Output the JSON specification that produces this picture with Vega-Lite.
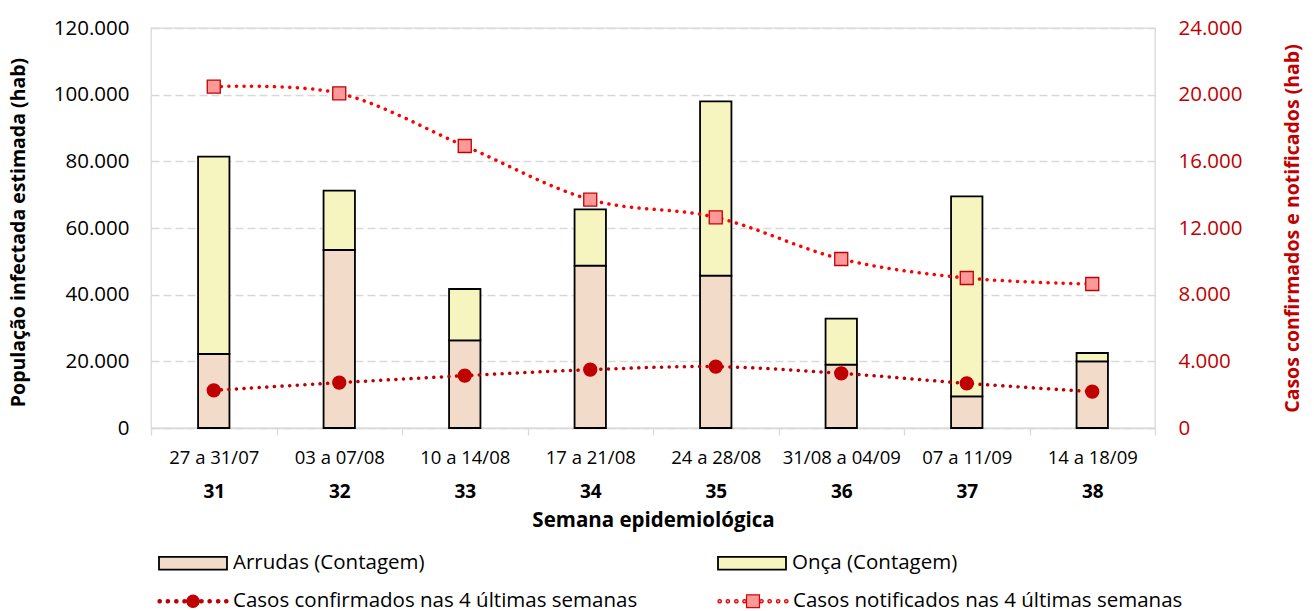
{
  "$schema": "https://vega.github.io/schema/vega-lite/v6.json",
  "autosize": {"type": "none"},
  "padding": {"left": 151, "top": 28, "right": 159, "bottom": 183},
  "width": 1004,
  "height": 400,
  "background": "white",
  "config": {
    "font": "Open Sans",
    "locale": {"number": {"decimal": ",", "thousands": ".", "grouping": [3], "currency": ["R$", ""]}},
    "view": {"stroke": "#D9D9D9", "strokeWidth": 1.3},
    "legend": {"padding": 0, "labelFont": "Open Sans", "labelFontSize": 20.5, "labelColor": "#000000", "labelOffset": 5, "orient": "none", "direction": "horizontal", "columns": 2, "labelLimit": 600}
  },
  "datasets": {
    "barras": [
      {"periodo": "27 a 31/07", "semana": 31, "area": "Arrudas (Contagem)", "valor": 22200},
      {"periodo": "27 a 31/07", "semana": 31, "area": "Onça (Contagem)", "valor": 59200},
      {"periodo": "03 a 07/08", "semana": 32, "area": "Arrudas (Contagem)", "valor": 53400},
      {"periodo": "03 a 07/08", "semana": 32, "area": "Onça (Contagem)", "valor": 17800},
      {"periodo": "10 a 14/08", "semana": 33, "area": "Arrudas (Contagem)", "valor": 26300},
      {"periodo": "10 a 14/08", "semana": 33, "area": "Onça (Contagem)", "valor": 15400},
      {"periodo": "17 a 21/08", "semana": 34, "area": "Arrudas (Contagem)", "valor": 48700},
      {"periodo": "17 a 21/08", "semana": 34, "area": "Onça (Contagem)", "valor": 16900},
      {"periodo": "24 a 28/08", "semana": 35, "area": "Arrudas (Contagem)", "valor": 45700},
      {"periodo": "24 a 28/08", "semana": 35, "area": "Onça (Contagem)", "valor": 52300},
      {"periodo": "31/08 a 04/09", "semana": 36, "area": "Arrudas (Contagem)", "valor": 19000},
      {"periodo": "31/08 a 04/09", "semana": 36, "area": "Onça (Contagem)", "valor": 13800},
      {"periodo": "07 a 11/09", "semana": 37, "area": "Arrudas (Contagem)", "valor": 9500},
      {"periodo": "07 a 11/09", "semana": 37, "area": "Onça (Contagem)", "valor": 60000},
      {"periodo": "14 a 18/09", "semana": 38, "area": "Arrudas (Contagem)", "valor": 20000},
      {"periodo": "14 a 18/09", "semana": 38, "area": "Onça (Contagem)", "valor": 2500}
    ],
    "casos": [
      {"semana": 31, "serie": "Casos confirmados nas 4 últimas semanas", "casos": 2260},
      {"semana": 32, "serie": "Casos confirmados nas 4 últimas semanas", "casos": 2720},
      {"semana": 33, "serie": "Casos confirmados nas 4 últimas semanas", "casos": 3140},
      {"semana": 34, "serie": "Casos confirmados nas 4 últimas semanas", "casos": 3500},
      {"semana": 35, "serie": "Casos confirmados nas 4 últimas semanas", "casos": 3680},
      {"semana": 36, "serie": "Casos confirmados nas 4 últimas semanas", "casos": 3280},
      {"semana": 37, "serie": "Casos confirmados nas 4 últimas semanas", "casos": 2680},
      {"semana": 38, "serie": "Casos confirmados nas 4 últimas semanas", "casos": 2180},
      {"semana": 31, "serie": "Casos notificados nas 4 últimas semanas", "casos": 20480},
      {"semana": 32, "serie": "Casos notificados nas 4 últimas semanas", "casos": 20080},
      {"semana": 33, "serie": "Casos notificados nas 4 últimas semanas", "casos": 16920},
      {"semana": 34, "serie": "Casos notificados nas 4 últimas semanas", "casos": 13700},
      {"semana": 35, "serie": "Casos notificados nas 4 últimas semanas", "casos": 12640},
      {"semana": 36, "serie": "Casos notificados nas 4 últimas semanas", "casos": 10140},
      {"semana": 37, "serie": "Casos notificados nas 4 últimas semanas", "casos": 9000},
      {"semana": 38, "serie": "Casos notificados nas 4 últimas semanas", "casos": 8640}
    ]
  },
  "layer": [
    {
      "data": {"name": "barras"},
      "mark": {"type": "bar", "width": {"band": 0.25}, "stroke": "#000000", "strokeWidth": 1.8},
      "encoding": {
        "x": {
          "field": "periodo", "type": "nominal", "sort": null,
          "scale": {"paddingInner": 0, "paddingOuter": 0},
          "axis": {
            "orient": "bottom", "title": null, "labelAngle": 0, "labelFontSize": 18.5, "labelColor": "#000000",
            "labelBaseline": "middle", "labelPadding": 22, "tickBand": "extent", "tickSize": 7,
            "tickColor": "#D9D9D9", "tickWidth": 1.3, "domainColor": "#D9D9D9", "domainWidth": 1.3, "grid": false
          }
        },
        "y": {
          "field": "valor", "type": "quantitative", "stack": "zero",
          "scale": {"domain": [0, 120000], "nice": false},
          "axis": {
            "title": "População infectada estimada (hab)", "values": [0, 20000, 40000, 60000, 80000, 100000, 120000],
            "format": ",.0f", "labelFontSize": 20.5, "labelColor": "#000000", "labelPadding": 22, "ticks": false, "tickSize": 0,
            "domain": false, "grid": true, "gridColor": "#D9D9D9", "gridDash": [8, 4], "gridWidth": 1.3,
            "titleFontSize": 19.5, "titleFontWeight": "bold", "titleColor": "#000000",
            "titleX": -133, "titleY": 204, "titleAngle": 270, "titleAlign": "center", "titleBaseline": "middle"
          }
        },
        "order": {"field": "area", "type": "ordinal", "sort": "ascending"},
        "color": {
          "field": "area", "type": "nominal",
          "scale": {"domain": ["Arrudas (Contagem)", "Onça (Contagem)"], "range": ["#F3DBC9", "#F6F5BF"]},
          "legend": {
            "title": null, "legendX": 7, "legendY": 500, "columnPadding": 289,
            "symbolType": "M-1,-0.19H1V0.19H-1Z", "symbolSize": 4624,
            "symbolStrokeColor": "#000000", "symbolStrokeWidth": 1.8, "symbolOpacity": 1
          }
        }
      }
    },
    {
      "data": {"name": "casos"},
      "encoding": {
        "x": {
          "field": "semana", "type": "ordinal",
          "scale": {"type": "point", "padding": 0.5},
          "axis": {
            "orient": "bottom", "title": "Semana epidemiológica", "labelAngle": 0, "labelFontSize": 19,
            "labelFontWeight": "bold", "labelColor": "#000000", "labelBaseline": "middle",
            "labelPadding": 63.5, "ticks": false, "tickSize": 0, "domain": false, "grid": false,
            "titleFontSize": 20.5, "titleFontWeight": "bold", "titleColor": "#000000",
            "titleY": 92, "titleBaseline": "middle"
          }
        },
        "y": {
          "field": "casos", "type": "quantitative",
          "scale": {"domain": [0, 24000], "nice": false},
          "axis": {
            "orient": "right", "title": "Casos confirmados e notificados (hab)",
            "values": [0, 4000, 8000, 12000, 16000, 20000, 24000], "format": ",.0f",
            "labelFontSize": 20.5, "labelColor": "#C00000", "labelPadding": 23, "ticks": false, "tickSize": 0,
            "domain": false, "grid": false,
            "titleFontSize": 19.5, "titleFontWeight": "bold", "titleColor": "#C00000",
            "titleX": 137, "titleY": 200, "titleAngle": 270, "titleAlign": "center", "titleBaseline": "middle"
          }
        }
      },
      "layer": [
        {
          "mark": {"type": "line", "interpolate": "cardinal", "strokeDash": [0.1, 7.5], "strokeCap": "round", "strokeWidth": 3.5},
          "encoding": {
            "stroke": {
              "field": "serie", "type": "nominal",
              "scale": {"range": ["#C00000", "#FF0000"]},
              "legend": null
            }
          }
        },
        {
          "mark": {"type": "point", "filled": true, "size": 169, "stroke": "#C00000", "strokeWidth": 1.3, "opacity": 1},
          "encoding": {
            "shape": {
              "field": "serie", "type": "nominal",
              "scale": {"range": ["circle", "square"]},
              "legend": null
            },
            "fill": {
              "field": "serie", "type": "nominal",
              "scale": {"range": ["#C00000", "#FF9999"]},
              "legend": null
            }
          }
        },
        {
          "mark": {"type": "point", "filled": true, "size": 169, "opacity": 0},
          "encoding": {
            "shape": {
              "field": "serie", "type": "nominal",
              "scale": {"range": [
                "M-1.03,0a0.05,0.05 0 1,0 0.1,0a0.05,0.05 0 1,0 -0.1,0ZM-0.79,0a0.05,0.05 0 1,0 0.1,0a0.05,0.05 0 1,0 -0.1,0ZM-0.54,0a0.05,0.05 0 1,0 0.1,0a0.05,0.05 0 1,0 -0.1,0ZM-0.3,0a0.05,0.05 0 1,0 0.1,0a0.05,0.05 0 1,0 -0.1,0ZM0.2,0a0.05,0.05 0 1,0 0.1,0a0.05,0.05 0 1,0 -0.1,0ZM0.44,0a0.05,0.05 0 1,0 0.1,0a0.05,0.05 0 1,0 -0.1,0ZM0.69,0a0.05,0.05 0 1,0 0.1,0a0.05,0.05 0 1,0 -0.1,0ZM0.93,0a0.05,0.05 0 1,0 0.1,0a0.05,0.05 0 1,0 -0.1,0ZM-0.18,0a0.18,0.18 0 1,0 0.36,0a0.18,0.18 0 1,0 -0.36,0Z",
                "M-1.03,0a0.05,0.05 0 1,0 0.1,0a0.05,0.05 0 1,0 -0.1,0ZM-0.79,0a0.05,0.05 0 1,0 0.1,0a0.05,0.05 0 1,0 -0.1,0ZM-0.54,0a0.05,0.05 0 1,0 0.1,0a0.05,0.05 0 1,0 -0.1,0ZM-0.3,0a0.05,0.05 0 1,0 0.1,0a0.05,0.05 0 1,0 -0.1,0ZM0.2,0a0.05,0.05 0 1,0 0.1,0a0.05,0.05 0 1,0 -0.1,0ZM0.44,0a0.05,0.05 0 1,0 0.1,0a0.05,0.05 0 1,0 -0.1,0ZM0.69,0a0.05,0.05 0 1,0 0.1,0a0.05,0.05 0 1,0 -0.1,0ZM0.93,0a0.05,0.05 0 1,0 0.1,0a0.05,0.05 0 1,0 -0.1,0ZM-0.19,-0.19H0.19V0.19H-0.19Z"
              ]},
              "legend": {
                "title": null, "legendX": 7, "legendY": 538, "columnPadding": 77,
                "symbolSize": 4624, "symbolStrokeColor": "#C00000", "symbolStrokeWidth": 1.2, "symbolOpacity": 1,
                "symbolFillOpacity": 1, "symbolStrokeOpacity": 1,
                "encode": {"symbols": {"update": {"stroke": {"signal": "indexof(datum.value, 'confirmados') >= 0 ? '#C00000' : '#E00000'"}, "opacity": {"value": 1}}}}
              }
            },
            "fill": {
              "field": "serie", "type": "nominal",
              "scale": {"range": ["#C00000", "#FF9999"]},
              "legend": {
                "title": null, "legendX": 7, "legendY": 538, "columnPadding": 77,
                "symbolSize": 4624, "symbolStrokeColor": "#C00000", "symbolStrokeWidth": 1.2, "symbolOpacity": 1,
                "symbolFillOpacity": 1, "symbolStrokeOpacity": 1,
                "encode": {"symbols": {"update": {"stroke": {"signal": "indexof(datum.value, 'confirmados') >= 0 ? '#C00000' : '#E00000'"}, "opacity": {"value": 1}}}}
              }
            }
          }
        }
      ],
      "resolve": {"scale": {"shape": "independent", "fill": "independent"}, "legend": {"shape": "independent", "fill": "independent"}}
    }
  ],
  "resolve": {"scale": {"x": "independent", "y": "independent"}}
}
